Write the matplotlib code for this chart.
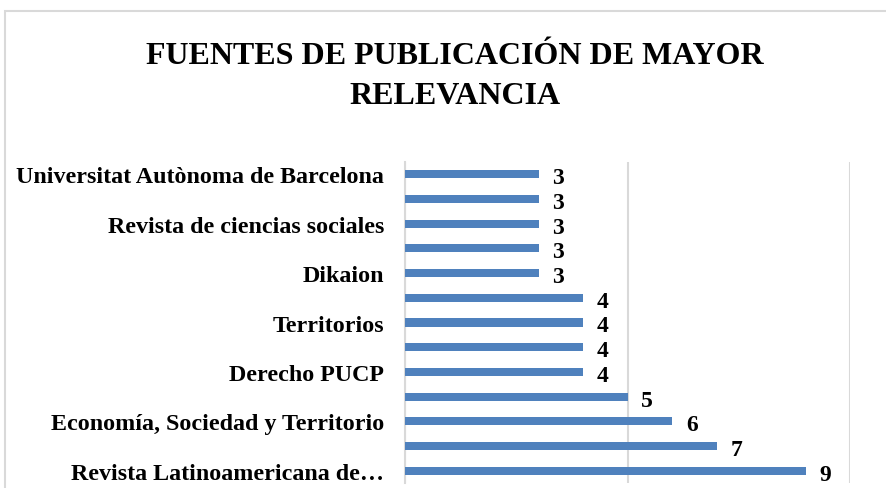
import matplotlib.pyplot as plt
from matplotlib.patches import Rectangle

# categories from bottom to top; Excel only printed every other label
labels = ['Revista Latinoamericana de\u2026', '', 'Economía, Sociedad y Territorio', '',
          'Derecho PUCP', '', 'Territorios', '', 'Dikaion', '',
          'Revista de ciencias sociales', '', 'Universitat Autònoma de Barcelona']
values = [9, 7, 6, 5, 4, 4, 4, 4, 3, 3, 3, 3, 3]

W, H = 886, 489
fig = plt.figure(figsize=(W / 100, H / 100), dpi=100)

# chart border (cropped on right and bottom)
fig.patches.append(Rectangle((5 / W, -0.1), 1.2, (H - 12) / H + 0.1, transform=fig.transFigure,
                             fill=False, edgecolor='#d9d9d9', linewidth=1.5))

ax = fig.add_axes([405 / W, 5 / H, (850 - 405) / W, (484 - 163) / H])
pos = list(range(len(values)))
ax.barh(pos, values, height=0.33, color='#4f81bd', zorder=3)

ax.set_xlim(0, 10)
ax.set_ylim(-0.5, len(values) - 0.5)
ax.set_xticks([0, 5, 10])
ax.xaxis.grid(True, color='#d9d9d9', linewidth=1.5, zorder=0)
ax.tick_params(axis='x', length=0, labelbottom=False)
ax.tick_params(axis='y', length=0, pad=15)
ax.set_yticks(pos)
ax.set_yticklabels(labels, fontfamily='Liberation Serif', fontweight='bold', fontsize=17.3)
for s in ['top', 'right', 'bottom']:
    ax.spines[s].set_visible(False)
ax.spines['left'].set_color('#d9d9d9')
ax.spines['left'].set_linewidth(1.5)

for p, v in zip(pos, values):
    ax.annotate(str(v), (v, p), xytext=(10, -2.5), textcoords='offset points',
                ha='left', va='center', fontfamily='Liberation Serif', fontweight='bold', fontsize=17)

fig.text(455 / W, 1 - 57 / H, 'FUENTES DE PUBLICACIÓN DE MAYOR', ha='center', va='center',
         fontfamily='Liberation Serif', fontweight='bold', fontsize=23)
fig.text(455 / W, 1 - 97 / H, 'RELEVANCIA', ha='center', va='center',
         fontfamily='Liberation Serif', fontweight='bold', fontsize=23)

fig.savefig('out.png', dpi=100)
